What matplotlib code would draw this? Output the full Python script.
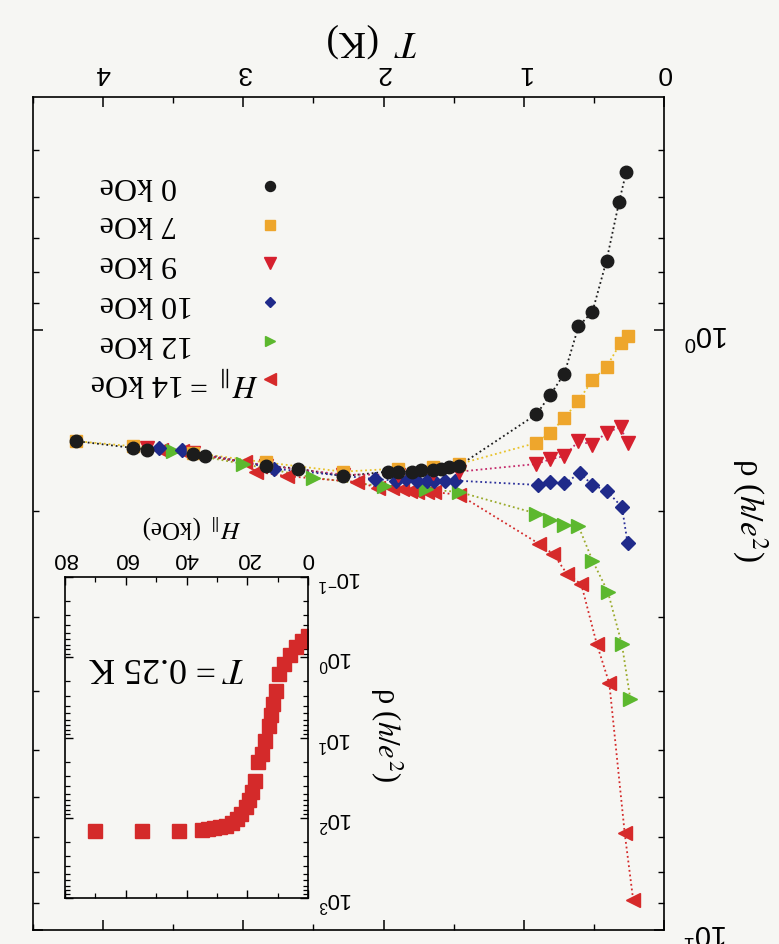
import matplotlib
matplotlib.use("Agg")
import matplotlib.pyplot as plt
from matplotlib.ticker import MultipleLocator, LogLocator, NullFormatter

plt.rcParams["font.family"] = ["Liberation Sans", "DejaVu Sans"]
plt.rcParams["axes.linewidth"] = 1.2

PAPER = "#f6f6f3"
SERIF = ["Liberation Serif", "DejaVu Serif"]

# ---- main panel: rho(T) for several in-plane fields ----
T0 = [0.27, 0.32, 0.41, 0.51, 0.61, 0.71, 0.81, 0.91, 1.46, 1.53, 1.59, 1.65,
      1.73, 1.80, 1.90, 1.97, 2.29, 2.61, 2.84, 3.27, 3.36, 3.69, 3.79, 4.19]
R0 = [0.545, 0.61, 0.765, 0.93, 0.985, 1.18, 1.28, 1.38, 1.68, 1.69, 1.70, 1.71,
      1.71, 1.72, 1.72, 1.72, 1.75, 1.70, 1.68, 1.62, 1.61, 1.58, 1.57, 1.53]

T7 = [0.26, 0.31, 0.41, 0.51, 0.61, 0.71, 0.81, 0.91, 1.46, 1.65, 1.90, 2.29,
      2.84, 3.36, 3.79, 4.19]
R7 = [1.02, 1.05, 1.15, 1.21, 1.31, 1.40, 1.48, 1.54, 1.67, 1.69, 1.70, 1.72,
      1.66, 1.60, 1.56, 1.53]

T9 = [0.26, 0.31, 0.41, 0.51, 0.61, 0.71, 0.81, 0.91, 1.46, 1.65, 1.90, 2.29,
      2.84, 3.36, 3.69]
R9 = [1.54, 1.45, 1.48, 1.55, 1.53, 1.62, 1.64, 1.67, 1.72, 1.73, 1.74, 1.74,
      1.68, 1.60, 1.57]

T10 = [0.26, 0.30, 0.41, 0.51, 0.60, 0.71, 0.81, 0.90, 1.49, 1.56, 1.64, 1.69,
       1.76, 1.84, 1.91, 2.06, 2.78, 3.44, 3.60]
R10 = [2.26, 1.97, 1.85, 1.81, 1.73, 1.80, 1.79, 1.81, 1.78, 1.78, 1.78, 1.78,
       1.78, 1.77, 1.78, 1.77, 1.70, 1.58, 1.57]

T12 = [0.24, 0.30, 0.40, 0.51, 0.61, 0.71, 0.81, 0.91, 1.46, 1.70, 2.00, 2.50,
       3.00, 3.50]
R12 = [4.12, 3.34, 2.73, 2.42, 2.12, 2.11, 2.07, 2.02, 1.86, 1.84, 1.82, 1.76,
       1.67, 1.59]

T14 = [0.22, 0.28, 0.39, 0.48, 0.59, 0.69, 0.79, 0.89, 1.46, 1.64, 1.69, 1.76,
       1.81, 1.87, 1.94, 2.04, 2.19, 2.69, 2.91, 2.99, 3.44, 3.59]
R14 = [8.9, 6.9, 3.88, 3.33, 2.65, 2.55, 2.36, 2.27, 1.88, 1.86, 1.86, 1.86,
       1.85, 1.84, 1.83, 1.83, 1.79, 1.75, 1.72, 1.66, 1.59, 1.58]

labels = ["0 kOe", "7 kOe", "9 kOe", "10 kOe", "12 kOe",
          "$H_{\\parallel}$\u2009=\u200914 kOe"]
temps = [T0, T7, T9, T10, T12, T14]
rhos = [R0, R7, R9, R10, R12, R14]
markers = ["o", "s", "v", "D", ">", "<"]
msizes = [9, 8.5, 10, 7, 9.5, 10]
mcolors = ["#1c1c1c", "#eea62c", "#d6202e", "#1f2a8a", "#5cb82e", "#d62a2a"]
lcolors = ["#1c1c1c", "#e8c22a", "#c42a6a", "#2a2f9a", "#9aaa2a", "#d42a2a"]

# ---- inset: rho(H) at T = 0.25 K ----
H_in = [0, 2, 4, 6, 8, 9.5, 10.5, 11.5, 12.3, 13, 14, 15, 16.3, 17.5, 18.5,
        19.5, 20.5, 22, 23.5, 25, 27, 29, 31, 33, 35, 42.5, 54.5, 70]
R_in = [0.54, 0.62, 0.74, 0.95, 1.2, 1.6, 2.6, 3.8, 5.2, 7.2, 11, 16, 20, 35, 48,
        60, 74, 89, 105, 117, 126, 132, 135, 138, 141, 145, 145, 145]

fig = plt.figure(figsize=(7.79, 9.44), dpi=100, facecolor=PAPER)

# the page is scanned upside down: axes are reversed and text turned 180 deg
ax = fig.add_axes([33 / 779, 14 / 944, 631 / 779, 833 / 944])
ax.set_facecolor(PAPER)

for i in range(len(temps)):
    ax.plot(temps[i], rhos[i], ls=(0, (1, 1.6)), lw=1.3, color=lcolors[i], zorder=2)
handles = []
for i in range(len(temps)):
    h, = ax.plot(temps[i], rhos[i], ls="none", marker=markers[i], ms=msizes[i],
                 color=mcolors[i], mec=mcolors[i], zorder=10 - i)
    handles.append(h)

ax.set_yscale("log")
ax.set_xlim(4.5, 0)
ax.set_ylim(10, 0.408)
ax.xaxis.set_major_locator(MultipleLocator(1))
ax.xaxis.set_minor_locator(MultipleLocator(0.5))
ax.yaxis.set_major_locator(LogLocator(base=10))
ax.yaxis.set_minor_locator(LogLocator(base=10, subs=range(2, 10)))
ax.yaxis.set_minor_formatter(NullFormatter())
ax.tick_params(which="both", direction="in", top=True, bottom=True,
               left=True, right=True, labeltop=True, labelbottom=False,
               labelright=True, labelleft=False, labelrotation=180)
ax.tick_params(which="major", length=7, width=1.1)
ax.tick_params(which="minor", length=4, width=1.0)
ax.tick_params(axis="x", labelsize=19, pad=9)
ax.tick_params(axis="y", labelsize=21, pad=14)

fig.text(373 / 779, 1 - 40 / 944, "$T$  (K)", family=SERIF, fontsize=27,
         rotation=180, ha="center", va="center", math_fontfamily="stix")
fig.text(750 / 779, 1 - 510 / 944, r"ρ ($h/e^2$)", family=SERIF, fontsize=24,
         rotation=-90, ha="center", va="center", math_fontfamily="stix")

# legend: marker column from the library, labels as turned text beside it
leg = ax.legend(handles, [""] * len(handles), loc="center",
                bbox_to_anchor=(270 / 779, 1 - 283.5 / 944),
                bbox_transform=fig.transFigure, frameon=False,
                handlelength=1.0, handletextpad=0, labelspacing=1.78,
                borderpad=0, borderaxespad=0, markerscale=0.8,
                prop={"size": 10})
row_y = [185, 224, 263, 304, 343, 382]
row_x = [100, 100, 100, 100, 100, 90]
for lab, xx, yy in zip(labels, row_x, row_y):
    fig.text(xx / 779, 1 - yy / 944, lab, family=SERIF, fontsize=23,
             rotation=180, ha="left", va="center", math_fontfamily="stix")

# inset
ins = fig.add_axes([65 / 779, 46 / 944, 243 / 779, 321 / 944])
ins.set_facecolor(PAPER)
ins.plot(H_in, R_in, ls="none", marker="s", ms=9.5, color="#d42a2a", mec="#d42a2a")
ins.set_yscale("log")
ins.set_xlim(80, 0)
ins.set_ylim(1000, 0.1)
ins.xaxis.set_major_locator(MultipleLocator(20))
ins.xaxis.set_minor_locator(MultipleLocator(10))
ins.yaxis.set_major_locator(LogLocator(base=10))
ins.yaxis.set_minor_locator(LogLocator(base=10, subs=range(2, 10)))
ins.yaxis.set_minor_formatter(NullFormatter())
ins.tick_params(which="both", direction="in", top=True, bottom=True,
                left=True, right=True, labeltop=True, labelbottom=False,
                labelright=True, labelleft=False, labelrotation=180)
ins.tick_params(which="major", length=6, width=1.0)
ins.tick_params(which="minor", length=3.5, width=0.9)
ins.tick_params(axis="x", labelsize=16, pad=6)
ins.tick_params(axis="y", labelsize=16, pad=7)

ins.text(0.42, 0.72, r"$T$ = 0.25 K", transform=ins.transAxes, family=SERIF,
         fontsize=26, rotation=180, ha="center", va="center", math_fontfamily="stix")
fig.text(191 / 779, 1 - 527 / 944, r"$H_{\parallel}$ (kOe)", family=SERIF,
         fontsize=18, rotation=180, ha="center", va="center", math_fontfamily="stix")
fig.text(386 / 779, 1 - 735 / 944, r"ρ ($h/e^2$)", family=SERIF, fontsize=22,
         rotation=-90, ha="center", va="center", math_fontfamily="stix")

fig.savefig("out.png", dpi=100, facecolor=PAPER)
